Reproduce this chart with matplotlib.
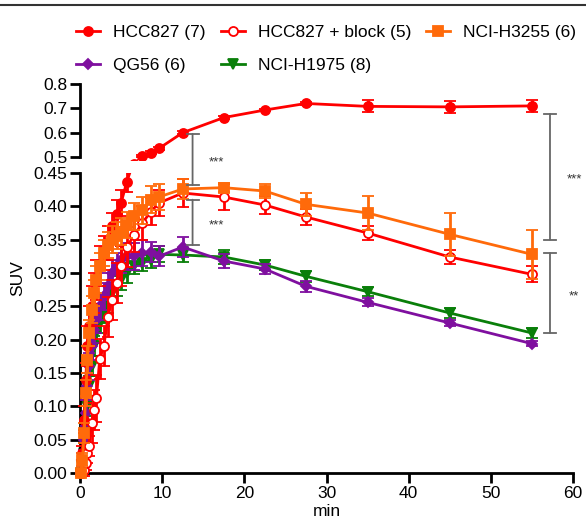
import matplotlib
matplotlib.use('Agg')
import matplotlib.pyplot as plt
from matplotlib.lines import Line2D
from matplotlib.patches import ConnectionPatch
from matplotlib.transforms import Bbox, TransformedBbox
import numpy as np

plt.rcParams['font.family'] = ['Liberation Sans', 'DejaVu Sans']

# ---------------- data ----------------
times = [0.1, 0.3, 0.5, 0.7, 0.9, 1.1, 1.4, 1.7, 2.0, 2.4, 2.9, 3.4, 3.9, 4.5, 5.0,
         5.7, 6.6, 7.6, 8.6, 9.6, 12.5, 17.5, 22.5, 27.5, 35, 45, 55]

hcc827 = [0.0, 0.03, 0.08, 0.14, 0.19, 0.22, 0.25, 0.27, 0.29, 0.31, 0.33, 0.345, 0.37,
          0.389, 0.405, 0.437, 0.47, 0.505, 0.518, 0.535, 0.60, 0.662, 0.693, 0.72,
          0.708, 0.706, 0.71]
hcc827_sem = [0.004, 0.01, 0.02, 0.025, 0.03, 0.03, 0.03, 0.03, 0.03, 0.03, 0.025, 0.025,
              0.02, 0.02, 0.02, 0.015, 0.015, 0.005, 0.005, 0.005, 0.005, 0.005, 0.005,
              0.005, 0.025, 0.025, 0.025]

block = [0.0, 0.0, 0.005, 0.015, 0.03, 0.04, 0.075, 0.095, 0.112, 0.171, 0.19, 0.234,
         0.26, 0.285, 0.31, 0.339, 0.357, 0.375, 0.392, 0.405, 0.42, 0.414, 0.402, 0.384,
         0.36, 0.324, 0.298]
block_sem = [0.003, 0.005, 0.01, 0.01, 0.015, 0.015, 0.03, 0.03, 0.035, 0.03, 0.03, 0.03,
             0.03, 0.03, 0.03, 0.03, 0.025, 0.025, 0.02, 0.02, 0.021, 0.02, 0.014, 0.012,
             0.01, 0.01, 0.012]

h3255 = [0.0, 0.02, 0.06, 0.12, 0.17, 0.21, 0.245, 0.27, 0.29, 0.31, 0.33, 0.342, 0.35,
         0.356, 0.362, 0.372, 0.385, 0.394, 0.41, 0.414, 0.426, 0.428, 0.423, 0.403,
         0.39, 0.358, 0.328]
h3255_sem = [0.003, 0.01, 0.015, 0.02, 0.02, 0.02, 0.02, 0.02, 0.02, 0.02, 0.02, 0.02,
             0.02, 0.02, 0.02, 0.02, 0.02, 0.02, 0.02, 0.02, 0.015, 0.007, 0.011, 0.017,
             0.025, 0.032, 0.037]

qg56 = [0.0, 0.02, 0.05, 0.09, 0.13, 0.16, 0.19, 0.215, 0.23, 0.25, 0.265, 0.28, 0.30,
        0.31, 0.32, 0.325, 0.325, 0.33, 0.332, 0.325, 0.339, 0.318, 0.306, 0.28, 0.256,
        0.225, 0.194]
qg56_sem = [0.003, 0.01, 0.015, 0.02, 0.02, 0.02, 0.02, 0.02, 0.02, 0.02, 0.02, 0.02,
            0.02, 0.02, 0.02, 0.02, 0.02, 0.02, 0.015, 0.015, 0.015, 0.01, 0.008, 0.008,
            0.006, 0.005, 0.004]

h1975 = [0.0, 0.01, 0.03, 0.06, 0.10, 0.13, 0.16, 0.19, 0.21, 0.225, 0.24, 0.255, 0.27,
         0.28, 0.29, 0.30, 0.31, 0.315, 0.32, 0.328, 0.327, 0.324, 0.312, 0.295, 0.272,
         0.24, 0.21]
h1975_sem = [0.003, 0.01, 0.015, 0.015, 0.015, 0.015, 0.015, 0.015, 0.015, 0.015, 0.015,
             0.015, 0.015, 0.015, 0.015, 0.015, 0.012, 0.012, 0.012, 0.012, 0.01, 0.01,
             0.008, 0.008, 0.007, 0.007, 0.007]

# significance brackets: x, (panel, y_top), (panel, y_bottom), label
brackets = [
    (13.7, ('top', 0.595), ('bot', 0.432), '***'),
    (13.7, ('bot', 0.41), ('bot', 0.342), '***'),
    (57.2, ('top', 0.677), ('bot', 0.35), '***'),
    (57.2, ('bot', 0.33), ('bot', 0.21), '**'),
]

x_ticks = [0, 10, 20, 30, 40, 50, 60]
top_ticks = [0.5, 0.6, 0.7, 0.8]
bot_ticks = [0.0, 0.05, 0.10, 0.15, 0.20, 0.25, 0.30, 0.35, 0.40, 0.45]

# ---------------- styling ----------------
RED = '#ff0000'
ORANGE = '#ff6a0a'
PURPLE = '#7f0f9f'
GREEN = '#0a7f0a'

series = [
    # label, values, sem, color, marker, mfc, ms, zorder
    ('NCI-H1975 (8)', h1975, h1975_sem, GREEN, 'v', GREEN, 6.5, 2),
    ('QG56 (6)', qg56, qg56_sem, PURPLE, 'D', PURPLE, 5.5, 3),
    ('HCC827 (7)', hcc827, hcc827_sem, RED, 'o', RED, 6.5, 4),
    ('HCC827 + block (5)', block, block_sem, RED, 'o', 'white', 6.5, 5),
    ('NCI-H3255 (6)', h3255, h3255_sem, ORANGE, 's', ORANGE, 6.5, 6),
]
legend_order = ['HCC827 (7)', 'QG56 (6)', 'HCC827 + block (5)', 'NCI-H1975 (8)',
                'NCI-H3255 (6)']

W, H = 586, 522
fig = plt.figure(figsize=(W / 100, H / 100), dpi=100)
L, Rr = 80 / W, 573 / W
ax_top = fig.add_axes([L, 1 - 157 / H, Rr - L, (157 - 84) / H])
ax_bot = fig.add_axes([L, 1 - 473 / H, Rr - L, (473 - 173) / H])

handles = {}
for ax in (ax_top, ax_bot):
    for lab, vals, sem, c, m, mfc, ms, z in series:
        cont = ax.errorbar(times, vals, yerr=sem, color=c, marker=m, ms=ms, mfc=mfc,
                           mec=c, mew=1.3, lw=2, elinewidth=2, capsize=4, capthick=2,
                           zorder=z)
        if ax is ax_bot:
            clip = TransformedBbox(Bbox([[-0.03, -0.03], [1.0, 1.0]]), ax.transAxes)
            for art in [cont.lines[0]] + list(cont.lines[1]) + list(cont.lines[2]):
                art.set_clip_box(clip)
        else:
            clip = TransformedBbox(Bbox([[0.0, -0.04], [1.0, 1.0]]), ax.transAxes)
            cont.lines[0].set_clip_box(clip)
        handles[lab] = Line2D([], [], color=c, marker=m, ms=ms, mfc=mfc, mec=c,
                              mew=1.3, lw=2)
    ax.set_xlim(0, 60)
    for s in ('right', 'top'):
        ax.spines[s].set_visible(False)
    ax.spines['left'].set_linewidth(2)
    ax.spines['bottom'].set_linewidth(2)
    ax.tick_params(axis='both', direction='out', length=7, width=2, labelsize=12.5,
                   pad=2)

ax_top.set_ylim(0.5, 0.8)
ax_top.set_yticks(top_ticks)
ax_top.set_yticklabels(['%.1f' % v for v in top_ticks])
ax_top.spines['bottom'].set_visible(False)
ax_top.set_xticks([])

ax_bot.set_ylim(0, 0.45)
ax_bot.set_yticks(bot_ticks)
ax_bot.set_yticklabels(['%.2f' % v for v in bot_ticks])
ax_bot.set_xticks(x_ticks)
ax_bot.set_xticklabels([str(v) for v in x_ticks])

fig.text(18 / W, 1 - 278 / H, 'SUV', rotation=90, ha='center', va='center',
         fontsize=12.5)
fig.text((80 + 573) / 2 / W, 1 - 511 / H, 'min', ha='center', va='center',
         fontsize=12.5)

# brackets
axes_map = {'top': ax_top, 'bot': ax_bot}
GRAY = '#666666'
to_fig = fig.transFigure.inverted()
for x, (pa, ya), (pb, yb), lab in brackets:
    axa, axb = axes_map[pa], axes_map[pb]
    con = ConnectionPatch(xyA=(x, ya), coordsA=axa.transData, xyB=(x, yb),
                          coordsB=axb.transData, color=GRAY, lw=1.3)
    fig.add_artist(con)
    pA = axa.transData.transform((x, ya))
    pB = axb.transData.transform((x, yb))
    for p in (pA, pB):
        q1 = to_fig.transform((p[0] - 6, p[1]))
        q2 = to_fig.transform((p[0] + 6, p[1]))
        fig.add_artist(Line2D([q1[0], q2[0]], [q1[1], q2[1]], color=GRAY, lw=1.3))
    mid = to_fig.transform(((pA[0] + pB[0]) / 2 + 24, (pA[1] + pB[1]) / 2 - 3))
    fig.text(mid[0], mid[1], lab, ha='center', va='center', fontsize=9.5,
             color='#333333')

# legend
fig.legend([handles[k] for k in legend_order], legend_order, ncol=3, loc='upper left',
           bbox_to_anchor=(69 / W, 1 - 18 / H), frameon=False, fontsize=12.5,
           handlelength=1.4, handletextpad=0.75, columnspacing=0.85, labelspacing=1.0,
           borderaxespad=0)

# top rule
fig.add_artist(Line2D([0, 1], [1 - 5 / H, 1 - 5 / H], color='#333333', lw=1.5))

fig.savefig('out.png', dpi=100)
